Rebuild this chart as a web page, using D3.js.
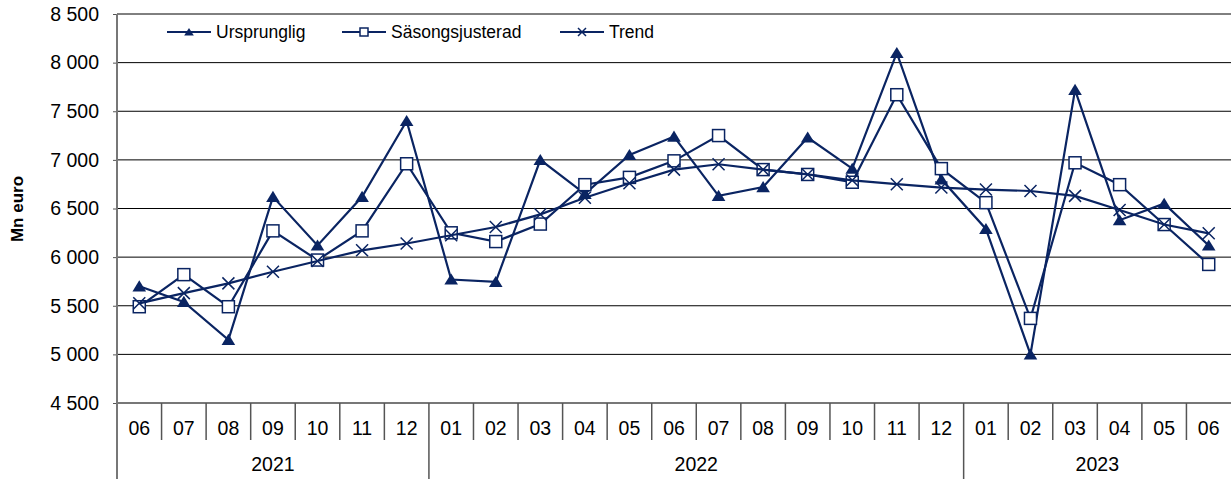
<!DOCTYPE html>
<html>
<head>
<meta charset="utf-8">
<script src="https://cdn.jsdelivr.net/npm/d3@7"></script>
<style>
  body { margin: 0; background: #fff; }
  svg { display: block; font-family: "Liberation Sans", Arial, sans-serif; }
</style>
</head>
<body>
<div id="chart"></div>
<script>
/* data */
const months = ["06","07","08","09","10","11","12",
  "01","02","03","04","05","06","07","08","09","10","11","12",
  "01","02","03","04","05","06"];
const years = [
  {label: "2021", start: 0, end: 7},
  {label: "2022", start: 7, end: 19},
  {label: "2023", start: 19, end: 25}
];
const ursprunglig = [5700, 5540, 5150, 6620, 6120, 6620, 7400,
  5770, 5745, 7000, 6650, 7050, 7240, 6630, 6720, 7230, 6910, 8100, 6800,
  6290, 5000, 7720, 6380, 6550, 6120];
const sasongsjusterad = [5490, 5820, 5490, 6270, 5970, 6270, 6960,
  6250, 6160, 6340, 6745, 6820, 6990, 7250, 6900, 6850, 6770, 7670, 6910,
  6560, 5370, 6970, 6745, 6335, 5925];
const trend = [5525, 5630, 5730, 5850, 5960, 6070, 6140,
  6225, 6310, 6440, 6610, 6760, 6900, 6955, 6900, 6850, 6790, 6750, 6715,
  6695, 6680, 6630, 6485, 6335, 6245];
const yTicks = [4500, 5000, 5500, 6000, 6500, 7000, 7500, 8000, 8500];

const series = [
  {name: "Ursprunglig", values: ursprunglig, marker: "triangle"},
  {name: "Säsongsjusterad", values: sasongsjusterad, marker: "square"},
  {name: "Trend", values: trend, marker: "cross"}
];

/* constants */
const width = 1231;
const height = 479;
const plot = {left: 117, right: 1231, top: 14, bottom: 403};
const navy = "#0a2462";
const fontSize = 19.5;

const svg = d3.select("#chart")
  .append("svg")
    .attr("width", width)
    .attr("height", height);

/* scales */
const xScale = d3.scaleBand()
  .domain(d3.range(months.length))
  .range([plot.left, plot.right]);

const yScale = d3.scaleLinear()
  .domain([4500, 8500])
  .range([plot.bottom, plot.top]);

const fmt = d3.formatLocale({decimal: ",", thousands: " ", grouping: [3], currency: ["", ""]}).format(",d");

// gridlines
svg.append("g")
  .selectAll("line")
  .data(yTicks)
  .join("line")
    .attr("x1", plot.left)
    .attr("x2", plot.right)
    .attr("y1", d => yScale(d))
    .attr("y2", d => yScale(d))
    .attr("stroke", "#000")
    .attr("stroke-width", 1);

// y axis
const leftAxis = d3.axisLeft(yScale)
  .tickValues(yTicks)
  .tickFormat(fmt)
  .tickSize(4)
  .tickPadding(14);
const yAxis = svg.append("g")
  .attr("transform", `translate(${plot.left}, 0)`)
  .call(leftAxis);
yAxis.select(".domain").remove();
yAxis.selectAll("line").attr("stroke", "#555");
yAxis.selectAll("text")
  .attr("font-size", fontSize)
  .attr("fill", "#000");

// vertical axis line running to the bottom
svg.append("line")
  .attr("x1", plot.left).attr("x2", plot.left)
  .attr("y1", plot.top).attr("y2", height)
  .attr("stroke", "#777").attr("stroke-width", 2);

// bottom axis line
svg.append("line")
  .attr("x1", plot.left).attr("x2", plot.right)
  .attr("y1", plot.bottom).attr("y2", plot.bottom)
  .attr("stroke", "#777").attr("stroke-width", 2);

// month dividers
svg.append("g")
  .selectAll("line")
  .data(d3.range(1, months.length))
  .join("line")
    .attr("x1", d => xScale(d))
    .attr("x2", d => xScale(d))
    .attr("y1", plot.bottom)
    .attr("y2", d => years.some(y => y.start === d) ? height : 440)
    .attr("stroke", "#555")
    .attr("stroke-width", 1.5);

// month labels
svg.append("g")
  .selectAll("text")
  .data(months)
  .join("text")
    .attr("x", (d, i) => xScale(i) + xScale.bandwidth() / 2)
    .attr("y", 435)
    .attr("text-anchor", "middle")
    .attr("font-size", fontSize)
    .text(d => d);

// year labels
svg.append("g")
  .selectAll("text")
  .data(years)
  .join("text")
    .attr("x", d => (xScale(d.start) + xScale(d.end - 1) + xScale.bandwidth()) / 2)
    .attr("y", 471)
    .attr("text-anchor", "middle")
    .attr("font-size", fontSize)
    .text(d => d.label);

// y title
svg.append("text")
  .attr("transform", `translate(23, 209) rotate(-90)`)
  .attr("text-anchor", "middle")
  .attr("font-size", 17)
  .attr("font-weight", "bold")
  .text("Mn euro");

/* markers */
const drawMarker = (g, type, size) => {
  const h = size / 2;
  if (type === "triangle") {
    g.append("path")
      .attr("d", `M0,${-h}L${h + 0.8},${h * 0.85}L${-h - 0.8},${h * 0.85}Z`)
      .attr("fill", navy);
  } else if (type === "square") {
    g.append("rect")
      .attr("x", -h).attr("y", -h)
      .attr("width", size).attr("height", size)
      .attr("fill", "#fff")
      .attr("stroke", navy)
      .attr("stroke-width", 1.5);
  } else {
    g.append("path")
      .attr("d", `M${-h},${-h}L${h},${h}M${-h},${h}L${h},${-h}`)
      .attr("stroke", navy)
      .attr("stroke-width", 1.5);
  }
};

const line = d3.line()
  .x((d, i) => xScale(i) + xScale.bandwidth() / 2)
  .y(d => yScale(d));

series.forEach(s => {
  svg.append("path")
    .datum(s.values)
    .attr("d", line)
    .attr("fill", "none")
    .attr("stroke", navy)
    .attr("stroke-width", 2.2);
  s.values.forEach((v, i) => {
    const g = svg.append("g")
      .attr("transform", `translate(${xScale(i) + xScale.bandwidth() / 2}, ${yScale(v)})`);
    drawMarker(g, s.marker, 12);
  });
});

/* legend */
const legendX = [167, 342, 560];
series.forEach((s, i) => {
  const g = svg.append("g")
    .attr("transform", `translate(${legendX[i]}, 32)`);
  g.append("line")
    .attr("x1", 0).attr("x2", 44)
    .attr("stroke", navy)
    .attr("stroke-width", 2.2);
  const m = g.append("g").attr("transform", "translate(22, 0)");
  drawMarker(m, s.marker, 8);
  g.append("text")
    .attr("x", 49)
    .attr("y", 6)
    .attr("font-size", 17.5)
    .text(s.name);
});
</script>
</body>
</html>
